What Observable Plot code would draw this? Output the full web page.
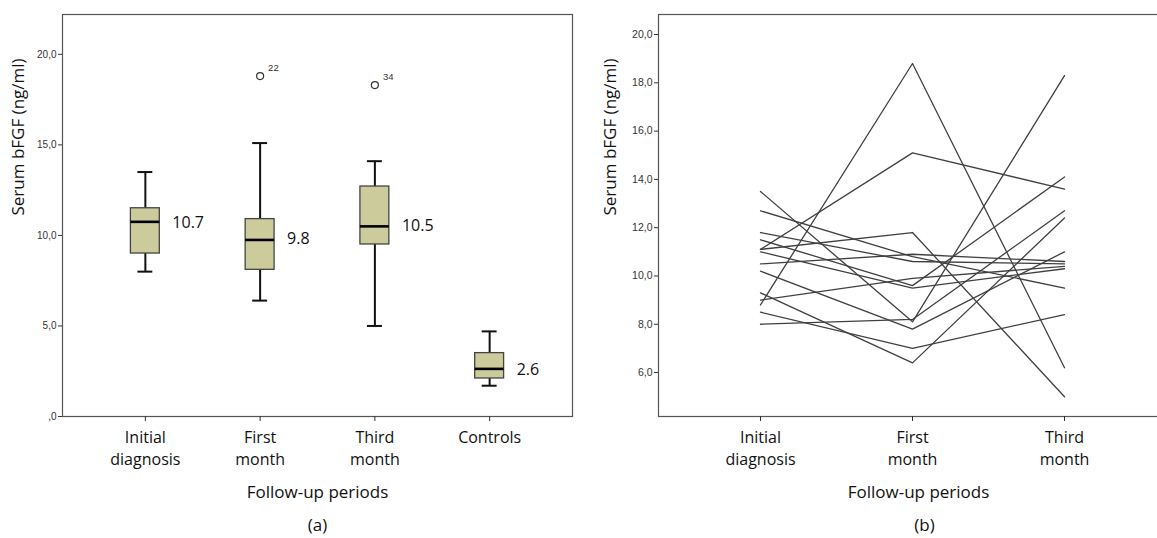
<!DOCTYPE html>
<html>
<head>
<meta charset="utf-8">
<script src="https://cdn.jsdelivr.net/npm/d3@7"></script>
<script src="https://cdn.jsdelivr.net/npm/@observablehq/plot@0.6"></script>
<style>
  html, body { margin: 0; padding: 0; background: #fff; overflow: hidden; }
  #wrap { position: relative; width: 1157px; height: 538px; overflow: hidden; }
  #a { position: absolute; left: 0; top: 0; width: 580px; }
  #b { position: absolute; left: 580px; top: 0; width: 586px; }
  svg { max-width: none !important; }
</style>
</head>
<body>
<div id="wrap"><div id="a"></div><div id="b"></div></div>
<script>
// ---------- Panel (a): box plots ----------
const categoriesA = ["Initial diagnosis", "First month", "Third month", "Controls"];
const tickLabelsA = ["Initial\ndiagnosis", "First\nmonth", "Third\nmonth", "Controls"];
const whiskerLow  = [8.0, 6.4, 5.0, 1.7];
const q1          = [9.0, 8.1, 9.5, 2.1];
const medians     = [10.75, 9.75, 10.5, 2.63];
const q3          = [11.5, 10.9, 12.7, 3.5];
const whiskerHigh = [13.5, 15.1, 14.1, 4.7];
const medianLabels = ["10.7", "9.8", "10.5", "2.6"];
const medianLabelValues = [10.7, 9.8, 10.5, 2.6];
const outlierCats   = ["First month", "Third month"];
const outlierValues = [18.8, 18.3];
const outlierIds    = ["22", "34"];
const yTicksA = [0, 5, 10, 15, 20];

// ---------- Panel (b): individual trajectories ----------
const periodsB = ["Initial diagnosis", "First month", "Third month"];
const tickLabelsB = ["Initial\ndiagnosis", "First\nmonth", "Third\nmonth"];
const initialValues = [8.8, 11.1, 11.1, 13.5, 8.0, 8.5, 9.3, 10.2, 9.0, 10.5, 11.8, 11.5, 11.0, 12.7];
const firstValues   = [18.8, 15.1, 11.8, 8.1, 8.2, 7.0, 6.4, 7.8, 9.9, 10.9, 10.6, 9.6, 9.5, 10.8];
const thirdValues   = [6.2, 13.6, 5.0, 18.3, 12.7, 8.4, 12.4, 11.0, 10.4, 10.6, 10.5, 14.1, 10.3, 9.5];
const yTicksB = [6, 8, 10, 12, 14, 16, 18, 20];

const yLabel = "Serum bFGF (ng/ml)";
const xLabel = "Follow-up periods";
const captionA = "(a)";
const captionB = "(b)";

const fmt = d => d === 0 ? ",0" : d.toFixed(1).replace(".", ",");
const labelFont = "'Open Sans', 'Noto Sans', sans-serif";
const tickFont = "'Liberation Sans', Arial, sans-serif";

const boxes = categoriesA.map((c, i) => ({
  cat: c, lo: whiskerLow[i], q1: q1[i], med: medians[i], q3: q3[i], hi: whiskerHigh[i],
  label: medianLabels[i], labelY: medianLabelValues[i]
}));
const outliers = outlierCats.map((c, i) => ({cat: c, v: outlierValues[i], id: outlierIds[i]}));

const plotA = Plot.plot({
  width: 580, height: 538,
  marginLeft: 62, marginRight: 8, marginTop: 14, marginBottom: 122,
  x: {type: "band", domain: categoriesA, paddingInner: 0.748, paddingOuter: 0.596, round: false},
  y: {domain: [0, 22.2]},
  style: {fontFamily: labelFont, background: "white"},
  marks: [
    Plot.frame({stroke: "#555", strokeWidth: 1.2}),
    Plot.axisY({ticks: yTicksA, tickFormat: fmt, tickSize: 4, tickPadding: 2, fontSize: 10,
      fontFamily: tickFont, fill: "#333", stroke: "#333", label: null}),
    Plot.axisX({tickFormat: d => tickLabelsA[categoriesA.indexOf(d)], tickSize: 5, tickPadding: 6,
      fontSize: 16, lineHeight: 1.37, fill: "#111", stroke: "#333", label: null}),
    Plot.ruleX(boxes, {x: "cat", y1: "lo", y2: "hi", stroke: "#111", strokeWidth: 2}),
    Plot.tickY(boxes, {x: "cat", y: "lo", stroke: "#111", strokeWidth: 2, insetLeft: 7, insetRight: 7}),
    Plot.tickY(boxes, {x: "cat", y: "hi", stroke: "#111", strokeWidth: 2, insetLeft: 7, insetRight: 7}),
    Plot.barY(boxes, {x: "cat", y1: "q1", y2: "q3", fill: "#cbcb9b", stroke: "#444", strokeWidth: 1.3}),
    Plot.tickY(boxes, {x: "cat", y: "med", stroke: "#000", strokeWidth: 2.6}),
    Plot.text(boxes, {x: "cat", y: "labelY", text: "label", textAnchor: "start", dx: 27,
      fontSize: 16, fill: "#111"}),
    Plot.dot(outliers, {x: "cat", y: "v", r: 3.5, stroke: "#333", strokeWidth: 1.2, fill: "white"}),
    Plot.text(outliers, {x: "cat", y: "v", text: "id", dx: 8, dy: -8, textAnchor: "start",
      fontSize: 9.5, fontFamily: tickFont, fill: "#333"}),
    Plot.text([yLabel], {frameAnchor: "left", text: d => d, rotate: -90, dx: -44, fontSize: 17, fill: "#111"}),
    Plot.text([xLabel], {frameAnchor: "bottom", text: d => d, dy: 81, fontSize: 17, fill: "#111"}),
    Plot.text([captionA], {frameAnchor: "bottom", text: d => d, dy: 114, fontSize: 17, fill: "#111"})
  ]
});
document.getElementById("a").appendChild(plotA);

const series = [];
initialValues.forEach((v, i) => {
  series.push({subject: i, period: periodsB[0], value: initialValues[i]});
  series.push({subject: i, period: periodsB[1], value: firstValues[i]});
  series.push({subject: i, period: periodsB[2], value: thirdValues[i]});
});

const plotB = Plot.plot({
  width: 586, height: 538,
  marginLeft: 78, marginRight: 0, marginTop: 14, marginBottom: 122,
  x: {type: "point", domain: periodsB, padding: 0.671, round: false},
  y: {domain: [4.18, 20.83]},
  style: {fontFamily: labelFont, background: "white"},
  marks: [
    Plot.frame({stroke: "#555", strokeWidth: 1.2}),
    Plot.axisY({ticks: yTicksB, tickFormat: fmt, tickSize: 4, tickPadding: 2, fontSize: 10.5,
      fontFamily: tickFont, fill: "#333", stroke: "#333", label: null}),
    Plot.axisX({tickFormat: d => tickLabelsB[periodsB.indexOf(d)], tickSize: 5, tickPadding: 6,
      fontSize: 16, lineHeight: 1.37, fill: "#111", stroke: "#333", label: null}),
    Plot.line(series, {x: "period", y: "value", z: "subject", stroke: "#404040", strokeWidth: 1.3}),
    Plot.text([yLabel], {frameAnchor: "left", text: d => d, rotate: -90, dx: -48, fontSize: 17, fill: "#111"}),
    Plot.text([xLabel], {frameAnchor: "bottom", text: d => d, dy: 81, dx: 6, fontSize: 17, fill: "#111"}),
    Plot.text([captionB], {frameAnchor: "bottom", text: d => d, dy: 114, dx: 12, fontSize: 17, fill: "#111"})
  ]
});
document.getElementById("b").appendChild(plotB);
</script>
</body>
</html>
